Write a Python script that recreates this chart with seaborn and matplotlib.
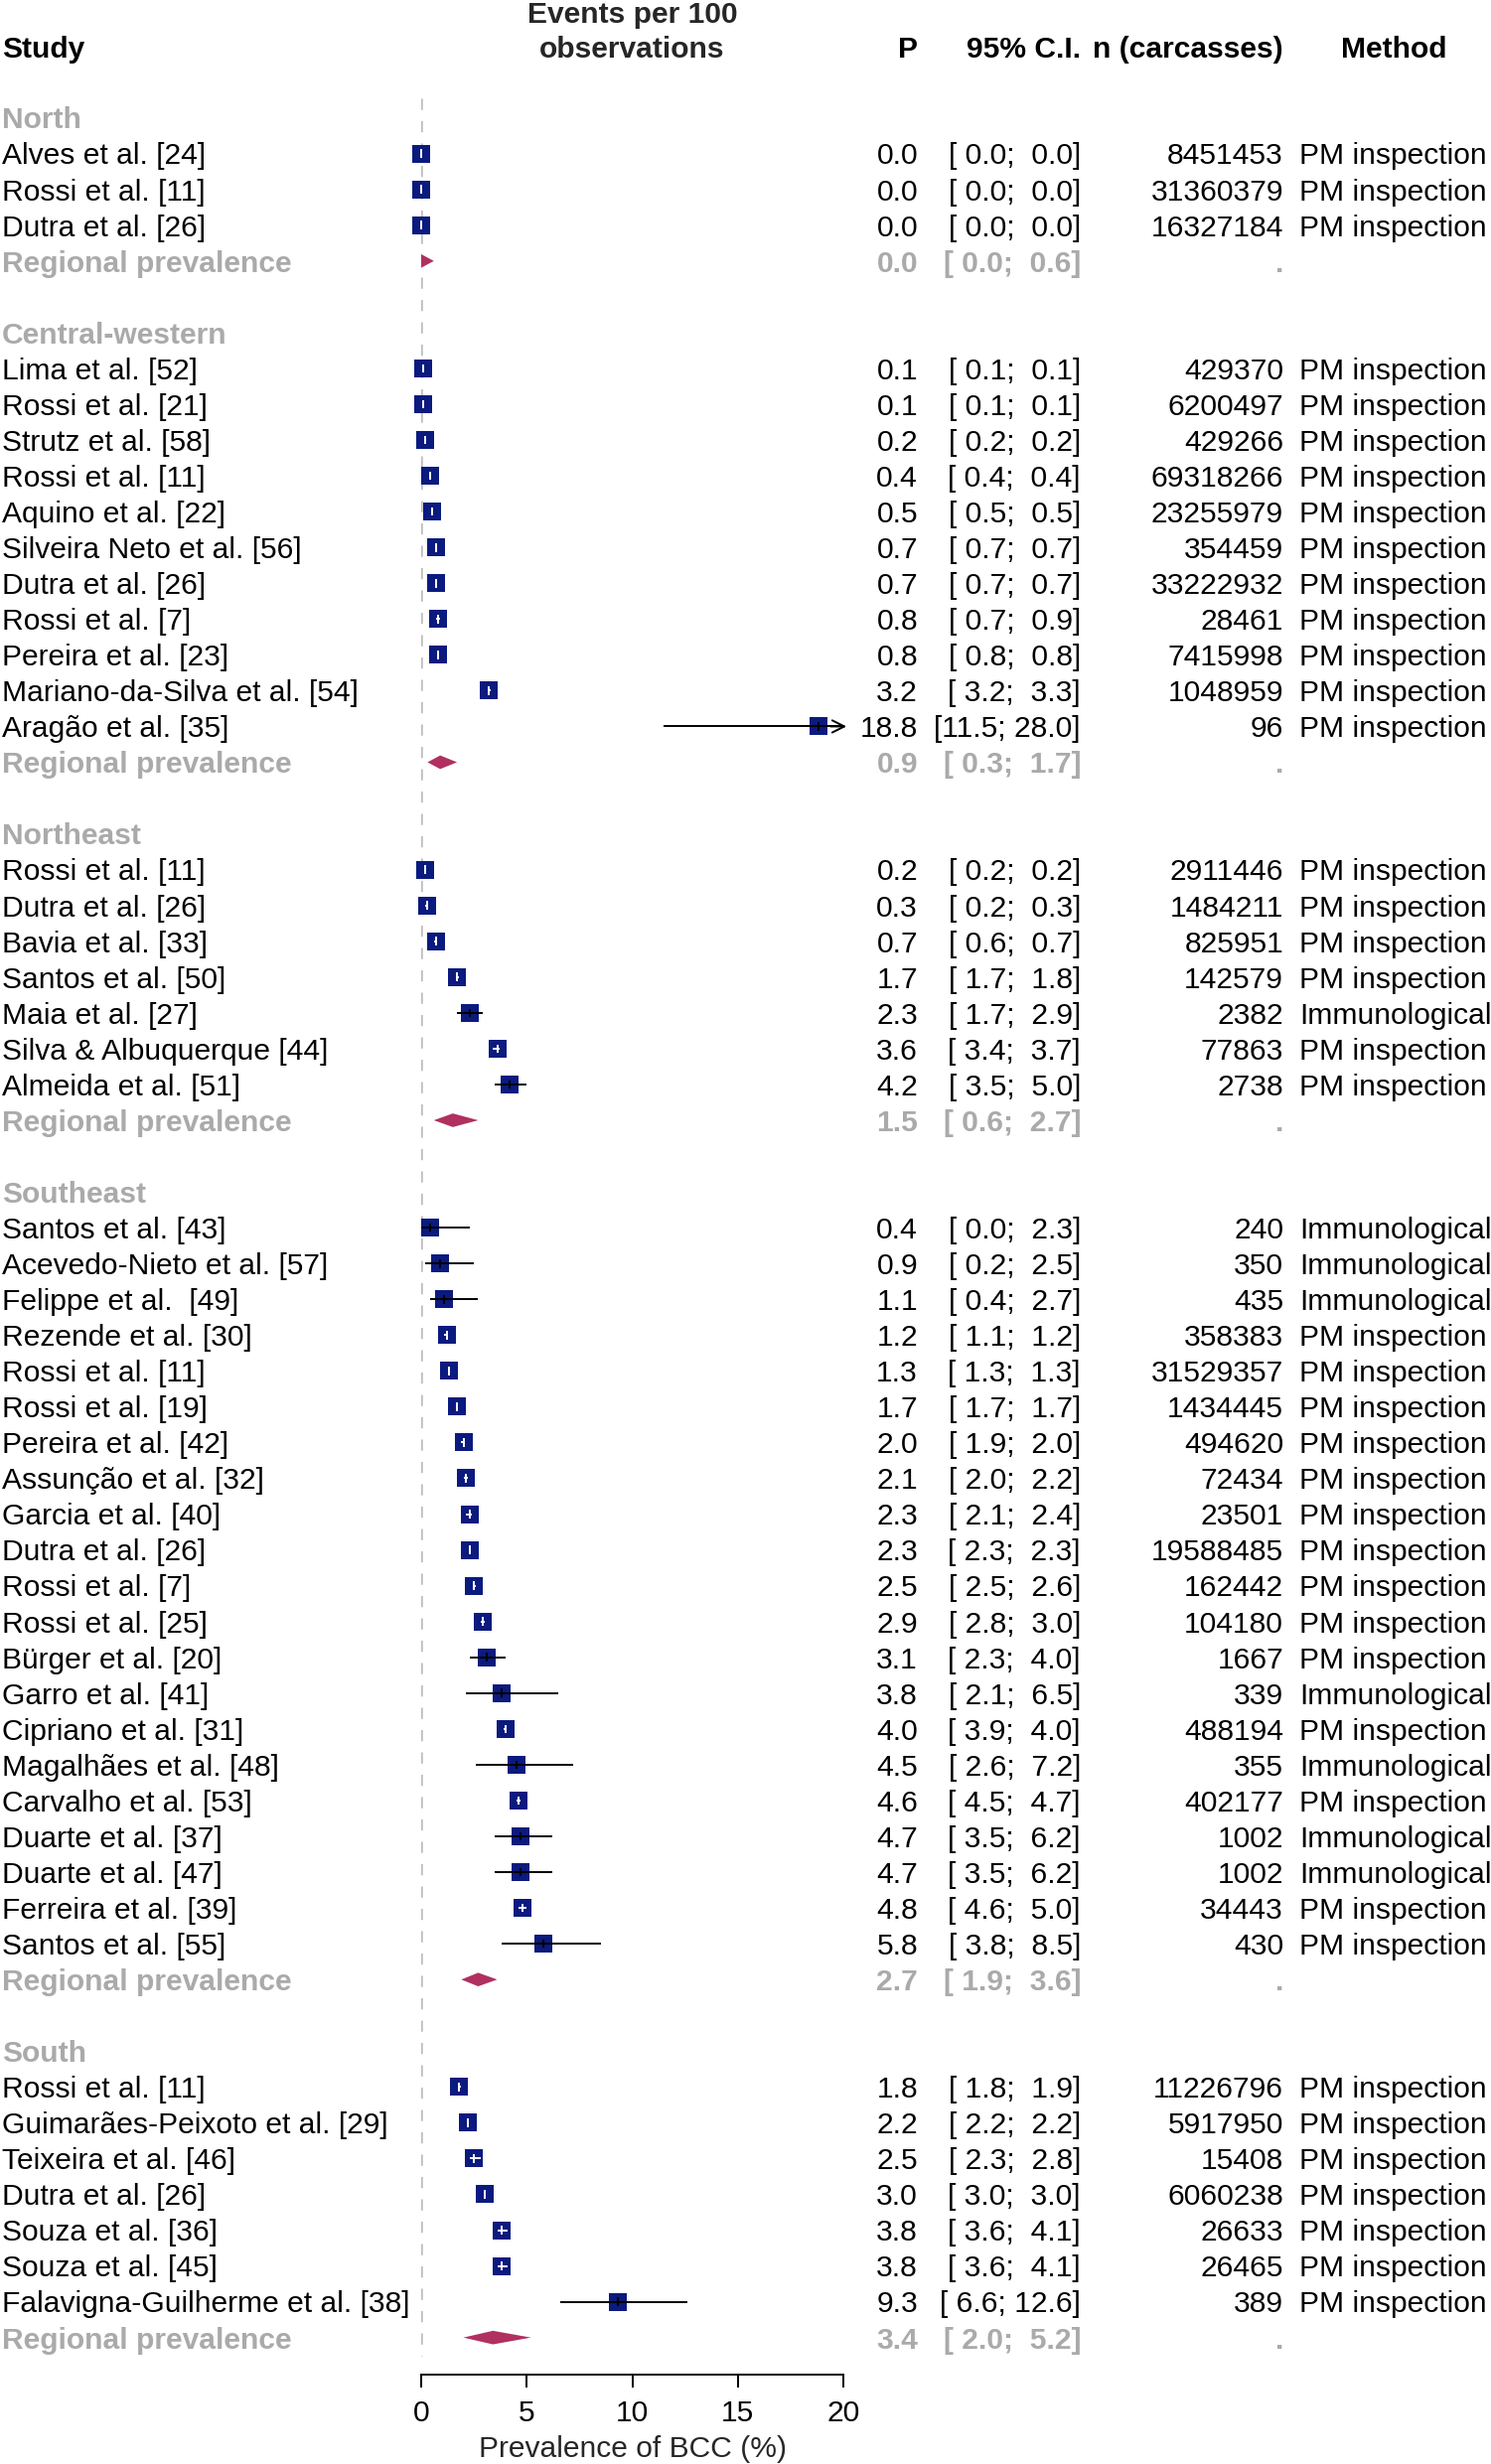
import matplotlib.pyplot as plt
import matplotlib.transforms as mtransforms
import pandas as pd
import seaborn as sns

# ==========================
# Data
# ==========================
regions = ["North", "Central-western", "Northeast", "Southeast", "South"]

study = [
    "Alves et al. [24]", "Rossi et al. [11]", "Dutra et al. [26]",
    "Lima et al. [52]", "Rossi et al. [21]", "Strutz et al. [58]", "Rossi et al. [11]",
    "Aquino et al. [22]", "Silveira Neto et al. [56]", "Dutra et al. [26]", "Rossi et al. [7]",
    "Pereira et al. [23]", "Mariano-da-Silva et al. [54]", "Aragão et al. [35]",
    "Rossi et al. [11]", "Dutra et al. [26]", "Bavia et al. [33]", "Santos et al. [50]",
    "Maia et al. [27]", "Silva & Albuquerque [44]", "Almeida et al. [51]",
    "Santos et al. [43]", "Acevedo-Nieto et al. [57]", "Felippe et al.  [49]",
    "Rezende et al. [30]", "Rossi et al. [11]", "Rossi et al. [19]", "Pereira et al. [42]",
    "Assunção et al. [32]", "Garcia et al. [40]", "Dutra et al. [26]", "Rossi et al. [7]",
    "Rossi et al. [25]", "Bürger et al. [20]", "Garro et al. [41]", "Cipriano et al. [31]",
    "Magalhães et al. [48]", "Carvalho et al. [53]", "Duarte et al. [37]",
    "Duarte et al. [47]", "Ferreira et al. [39]", "Santos et al. [55]",
    "Rossi et al. [11]", "Guimarães-Peixoto et al. [29]", "Teixeira et al. [46]",
    "Dutra et al. [26]", "Souza et al. [36]", "Souza et al. [45]",
    "Falavigna-Guilherme et al. [38]",
]
study_region = (["North"] * 3 + ["Central-western"] * 11 + ["Northeast"] * 7
                + ["Southeast"] * 21 + ["South"] * 7)

prev = [0.0, 0.0, 0.0,
        0.1, 0.1, 0.2, 0.4, 0.5, 0.7, 0.7, 0.8, 0.8, 3.2, 18.8,
        0.2, 0.3, 0.7, 1.7, 2.3, 3.6, 4.2,
        0.4, 0.9, 1.1, 1.2, 1.3, 1.7, 2.0, 2.1, 2.3, 2.3, 2.5, 2.9, 3.1, 3.8, 4.0,
        4.5, 4.6, 4.7, 4.7, 4.8, 5.8,
        1.8, 2.2, 2.5, 3.0, 3.8, 3.8, 9.3]
lower = [0.0, 0.0, 0.0,
         0.1, 0.1, 0.2, 0.4, 0.5, 0.7, 0.7, 0.7, 0.8, 3.2, 11.5,
         0.2, 0.2, 0.6, 1.7, 1.7, 3.4, 3.5,
         0.0, 0.2, 0.4, 1.1, 1.3, 1.7, 1.9, 2.0, 2.1, 2.3, 2.5, 2.8, 2.3, 2.1, 3.9,
         2.6, 4.5, 3.5, 3.5, 4.6, 3.8,
         1.8, 2.2, 2.3, 3.0, 3.6, 3.6, 6.6]
upper = [0.0, 0.0, 0.0,
         0.1, 0.1, 0.2, 0.4, 0.5, 0.7, 0.7, 0.9, 0.8, 3.3, 28.0,
         0.2, 0.3, 0.7, 1.8, 2.9, 3.7, 5.0,
         2.3, 2.5, 2.7, 1.2, 1.3, 1.7, 2.0, 2.2, 2.4, 2.3, 2.6, 3.0, 4.0, 6.5, 4.0,
         7.2, 4.7, 6.2, 6.2, 5.0, 8.5,
         1.9, 2.2, 2.8, 3.0, 4.1, 4.1, 12.6]
n_carcasses = [8451453, 31360379, 16327184,
               429370, 6200497, 429266, 69318266, 23255979, 354459, 33222932, 28461,
               7415998, 1048959, 96,
               2911446, 1484211, 825951, 142579, 2382, 77863, 2738,
               240, 350, 435, 358383, 31529357, 1434445, 494620, 72434, 23501, 19588485,
               162442, 104180, 1667, 339, 488194, 355, 402177, 1002, 1002, 34443, 430,
               11226796, 5917950, 15408, 6060238, 26633, 26465, 389]
PM, IM = "PM inspection", "Immunological"
method = [PM, PM, PM,
          PM, PM, PM, PM, PM, PM, PM, PM, PM, PM, PM,
          PM, PM, PM, PM, IM, PM, PM,
          IM, IM, IM, PM, PM, PM, PM, PM, PM, PM, PM, PM, PM, IM, PM,
          IM, PM, IM, IM, PM, PM,
          PM, PM, PM, PM, PM, PM, PM]

pooled_p = [0.0, 0.9, 1.5, 2.7, 3.4]
pooled_lo = [0.0, 0.3, 0.6, 1.9, 2.0]
pooled_hi = [0.6, 1.7, 2.7, 3.6, 5.2]

# ==========================
# Layout (figure pixels)
# ==========================
W, H = 1501, 2481
ROW_PX = 36.05
ROW0_PX = 118.6
AXIS_PX = 2391
X0_PX, X20_PX = 424, 849
XMAX = 20
NAVY = "#0b1a7e"
DIAMOND = "#b03060"
GRAY = "#aaaaaa"
FS = 21.6
SQ_PX = 18
BASE = 0.30  # baseline offset (rows) so caps are centred on the row

df = pd.DataFrame({"study": study, "region": study_region, "p": prev,
                   "lo": lower, "hi": upper, "n": n_carcasses, "method": method})

# assign rows: region label, studies, pooled line, blank
row = 0
header_rows, pooled_rows, study_rows = [], [], []
for reg in regions:
    header_rows.append(row)
    row += 1
    for _ in range((df["region"] == reg).sum()):
        study_rows.append(row)
        row += 1
    pooled_rows.append(row)
    row += 2
df["row"] = study_rows

sns.set_style("white")
plt.rcParams["font.family"] = ["Liberation Sans", "DejaVu Sans"]
plt.rcParams["font.size"] = FS

fig = plt.figure(figsize=(W / 100, H / 100), dpi=100)
ax = fig.add_axes([X0_PX / W, (H - AXIS_PX) / H, (X20_PX - X0_PX) / W, AXIS_PX / H])
ax.set_xlim(0, XMAX)
ax.set_ylim((AXIS_PX - ROW0_PX) / ROW_PX, -ROW0_PX / ROW_PX)

# reference line
ax.vlines(0, -0.55, pooled_rows[-1] + 0.5, colors="#bdbdbd",
          linestyles=(0, (4.5, 4.5)), lw=1.8, zorder=1)

# squares
sns.scatterplot(data=df, x="p", y="row", marker="s", s=(SQ_PX * 0.72) ** 2,
                color=NAVY, linewidth=0, ax=ax, legend=False, zorder=3, clip_on=False)

# confidence intervals
half = (SQ_PX / 2) / ((X20_PX - X0_PX) / XMAX)
for _, r in df.iterrows():
    inside = (r.lo >= r.p - half) and (r.hi <= r.p + half)
    col = "white" if inside else "black"
    ax.plot([r.lo, min(r.hi, XMAX)], [r.row, r.row], color=col, lw=1.4,
            zorder=4, clip_on=False, solid_capstyle="butt")
    ax.plot([r.p, r.p], [r.row - 0.12, r.row + 0.12], color=col, lw=1.4,
            zorder=4, clip_on=False, solid_capstyle="butt")
    if r.hi > XMAX:
        ax.annotate("", xy=(XMAX + 0.15, r.row), xytext=(XMAX - 0.6, r.row),
                    arrowprops=dict(arrowstyle="->", color="black", lw=1.4,
                                    mutation_scale=22, shrinkA=0, shrinkB=0),
                    annotation_clip=False, zorder=4)

# pooled diamonds
for yr, p, lo, hi in zip(pooled_rows, pooled_p, pooled_lo, pooled_hi):
    ax.fill([lo, p, hi, p], [yr, yr - 0.19, yr, yr + 0.19], color=DIAMOND,
            lw=0, zorder=3, clip_on=False)

# axis
for s in ["left", "top", "right"]:
    ax.spines[s].set_visible(False)
ax.spines["bottom"].set_color("black")
ax.spines["bottom"].set_linewidth(1.4)
ax.set_xticks([0, 5, 10, 15, 20])
ax.set_yticks([])
ax.tick_params(axis="x", bottom=True, length=9, width=1.4, pad=9,
               labelsize=FS, colors="black", direction="out")
ax.set_xlabel("")
ax.set_ylabel("")

# ==========================
# Text columns
# ==========================
trans = mtransforms.blended_transform_factory(fig.transFigure, ax.transData)


def put(xpx, yr, s, ha="left", color="black", bold=False):
    ax.text(xpx / W, yr + BASE, s, transform=trans, ha=ha, va="baseline", color=color,
            fontweight="bold" if bold else "normal", fontsize=FS, clip_on=False)


P_X, CI_X, N_X, M_X = 924, 1088, 1292, 1308
hdr = -1.99
put(2, hdr, "Study", bold=True)
ax.text(10, hdr - 0.95 + BASE, "Events per 100", ha="center", va="baseline",
        fontweight="bold", fontsize=FS, clip_on=False)
ax.text(10, hdr + BASE, "observations", ha="center", va="baseline",
        fontweight="bold", fontsize=FS, clip_on=False)
put(P_X, hdr, "P", ha="right", bold=True)
put(CI_X, hdr, "95% C.I.", ha="right", bold=True)
put(N_X, hdr, "n (carcasses)", ha="right", bold=True)
put(1403, hdr, "Method", ha="center", bold=True)


def ci_text(lo, hi):
    return f"[{lo:4.1f}; {hi:4.1f}]"


for _, r in df.iterrows():
    put(2, r.row, r.study)
    put(P_X, r.row, f"{r.p:.1f}", ha="right")
    put(CI_X, r.row, ci_text(r.lo, r.hi), ha="right")
    put(N_X, r.row, f"{r.n}", ha="right")
    put(M_X, r.row, r.method)

for reg, yh, yp, p, lo, hi in zip(regions, header_rows, pooled_rows,
                                  pooled_p, pooled_lo, pooled_hi):
    put(2, yh, reg, color=GRAY, bold=True)
    put(2, yp, "Regional prevalence", color=GRAY, bold=True)
    put(P_X, yp, f"{p:.1f}", ha="right", color=GRAY, bold=True)
    put(CI_X, yp, ci_text(lo, hi), ha="right", color=GRAY, bold=True)
    put(N_X, yp, ".", ha="right", color=GRAY, bold=True)

fig.text(((X0_PX + X20_PX) / 2) / W, 1 - 2466 / H, "Prevalence of BCC (%)",
         ha="center", va="center", fontsize=FS)

fig.savefig("out.png", dpi=100)
